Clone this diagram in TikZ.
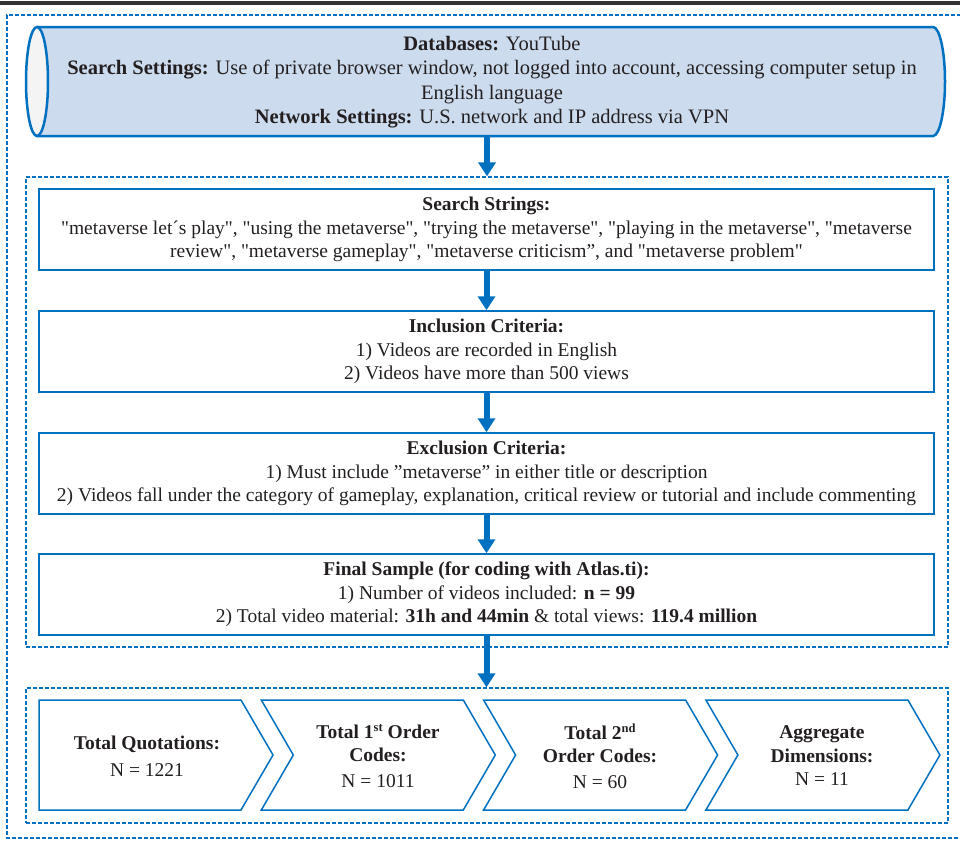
\documentclass[tikz,border=0pt]{standalone}
\usepackage{fontspec}
\newfontfamily\lsf{Liberation Serif}
\usetikzlibrary{arrows.meta}
\definecolor{bl}{RGB}{0,112,192}
\definecolor{cylfill}{RGB}{204,219,237}
\definecolor{endfill}{RGB}{244,244,244}
\definecolor{txt}{RGB}{35,31,32}
\newcommand{\supx}[1]{\raisebox{6.5pt}{\fontsize{12.5}{12}\selectfont #1}}
\begin{document}
\begin{tikzpicture}[x=1pt,y=1pt,
  every node/.style={text=txt, font=\lsf\fontsize{19.5}{23.5}\selectfont},
  box/.style={draw=bl, line width=1.5pt, minimum width=895pt, minimum height=81pt, align=center, inner sep=0pt},
  dbox/.style={draw=bl, line width=1.3pt, dash pattern=on 4pt off 2pt, minimum width=922pt, inner sep=0pt},
  arr/.style={draw=bl, line width=6pt, -{Triangle[length=14pt,width=17pt]}},
  chev/.style={draw=bl, line width=1.5pt},
  ctext/.style={align=center, inner sep=0pt}]
\useasboundingbox (0,0) rectangle (960,-849);
% top rule
\draw[line width=3.5pt, black!80] (0,-3) -- (960,-3);
% outer dashed frame (right side cropped)
\draw[bl, line width=1.3pt, dash pattern=on 4pt off 2pt] (961,-15) -- (7,-15) -- (7,-838) -- (961,-838);
% cylinder
\fill[cylfill] (37,-27) -- (933,-27) arc[start angle=90, end angle=-90, x radius=12, y radius=54.5] -- (37,-136) -- cycle;
\draw[bl, line width=2.5pt] (37,-27) -- (933,-27) arc[start angle=90, end angle=-90, x radius=12, y radius=54.5] -- (37,-136);
\draw[bl, line width=2.5pt, fill=endfill] (37,-81.5) ellipse[x radius=11, y radius=54.5];
\node[minimum width=919pt, minimum height=109pt, inner sep=0pt] (cyl) at (485.5,-81.5) {};
\node[align=center, inner sep=0pt, font=\lsf\fontsize{20.5}{24.5}\selectfont] (db) at (492,-82)
  {\textbf{Databases:} YouTube\\
   \textbf{Search Settings:} Use of private browser window, not logged into account, accessing computer setup in\\
   English language\\
   \textbf{Network Settings:} U.S. network and IP address via VPN};
% dashed groups
\node[dbox, minimum height=470pt] (in1) at (487,-412) {};
\node[dbox, minimum height=135pt] (in2) at (487,-755.5) {};
% boxes
\node[box] (ss) at (486.5,-229.5)
  {\textbf{Search Strings:}\\
   "metaverse let´s play", "using the metaverse", "trying the metaverse", "playing in the metaverse", "metaverse\\
   review", "metaverse gameplay", "metaverse criticism”, and "metaverse problem"};
\node[box] (inc) at (486.5,-351.5)
  {\textbf{Inclusion Criteria:}\\
   1) Videos are recorded in English\\
   2) Videos have more than 500 views};
\node[box] (exc) at (486.5,-473.5)
  {\textbf{Exclusion Criteria:}\\
   1) Must include ”metaverse” in either title or description\\
   2) Videos fall under the category of gameplay, explanation, critical review or tutorial and include commenting};
\node[box] (fin) at (486.5,-594.5)
  {\textbf{Final Sample (for coding with Atlas.ti):}\\
   1) Number of videos included: \textbf{n = 99}\\
   2) Total video material: \textbf{31h and 44min} \& total views: \textbf{119.4 million}};
% arrows
\draw[arr] (cyl.south -| in1.north) -- (in1.north);
\draw[arr] (ss.south) -- (inc.north);
\draw[arr] (inc.south) -- (exc.north);
\draw[arr] (exc.south) -- (fin.north);
\draw[arr] (fin.south) -- (fin.south |- in2.north);
% chevrons
\draw[chev] (39,-700) -- (241,-700) -- (273,-755) -- (241,-810) -- (39,-810) -- cycle;
\draw[chev] (261.3,-700) -- (463.3,-700) -- (495.3,-755) -- (463.3,-810) -- (261.3,-810) -- (293.3,-755) -- cycle;
\draw[chev] (483.6,-700) -- (685.6,-700) -- (717.6,-755) -- (685.6,-810) -- (483.6,-810) -- (515.6,-755) -- cycle;
\draw[chev] (705.9,-700) -- (907.9,-700) -- (939.9,-755) -- (907.9,-810) -- (705.9,-810) -- (737.9,-755) -- cycle;
\node[ctext] (c1) at (147,-756) {\textbf{Total Quotations:}\\[3.5pt]N = 1221};
\node[ctext] (c2) at (378,-756) {\textbf{Total 1\supx{st} Order}\\\textbf{Codes:}\\[2pt]N = 1011};
\node[ctext] (c3) at (600,-756) {\textbf{Total 2\supx{nd}}\\\textbf{Order Codes:}\\[2pt]N = 60};
\node[ctext] (c4) at (822,-756) {\textbf{Aggregate}\\\textbf{Dimensions:}\\N = 11};
\end{tikzpicture}
\end{document}
